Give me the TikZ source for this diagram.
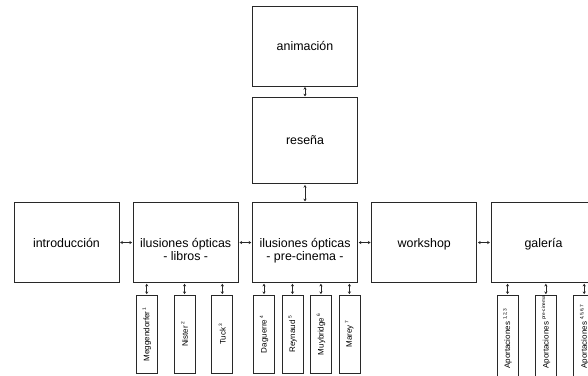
\documentclass[tikz,border=0pt]{standalone}
\usepackage{fontspec}
\setmainfont{Liberation Sans}
\usetikzlibrary{arrows.meta, positioning}
\definecolor{boxline}{RGB}{40,40,40}
\newcommand\tinysup[1]{\,\raisebox{2.6pt}{\fontsize{3.6}{4}\selectfont #1}}
\tikzset{
  mainbox/.style={
    draw=boxline,
    line width=0.6pt,
    minimum width=78.75pt,
    minimum height=60pt,
    inner sep=0pt
  },
  maintext/.style={
    font=\fontsize{9.3}{10}\selectfont,
    align=center,
    inner sep=0pt,
    anchor=base
  },
  tinybox/.style={
    draw=boxline,
    line width=0.6pt,
    minimum width=15.75pt,
    minimum height=58.5pt,
    inner sep=0pt
  },
  tinytext/.style={font=\fontsize{6}{7}\selectfont, rotate=90, inner sep=0pt},
  link/.style={{Stealth[length=2pt,width=2.4pt]}-{Stealth[length=2pt,width=2.4pt]}, line width=0.5pt, draw=boxline, shorten <=0.6pt, shorten >=0.6pt}
}

\begin{document}
\begin{tikzpicture}
        \useasboundingbox (0,0) rectangle (441pt,-281.25pt);
        \clip (0,0) rectangle (441pt,-281.25pt);

        % main row
        \node[mainbox] (precine) at (228.75pt,-181.9pt) {};
        \node[mainbox, left=10.1pt of precine] (libros) {};
        \node[mainbox, left=10.1pt of libros] (intro) {};
        \node[mainbox, right=10.1pt of precine] (workshop) {};
        \node[mainbox, right=10.1pt of workshop] (galeria) {};
        \node[mainbox, above=13.5pt of precine, minimum height=65pt] (resena) {};
        \node[mainbox, above=7.5pt of resena] (animacion) {};

        \node[maintext] (animacion-t) at ([yshift=-3.4pt]animacion.center) {animación};
        \node[maintext] (resena-t) at ([yshift=-3.4pt]resena.center) {reseña};
        \node[maintext] (intro-t) at ([yshift=-3.4pt]intro.center) {introducción};
        \node[maintext] (libros-t) at ([yshift=-13.4pt]libros.center) {ilusiones ópticas\\- libros -};
        \node[maintext] (precine-t) at ([yshift=-13.4pt]precine.center) {ilusiones ópticas\\- pre-cinema -};
        \node[maintext] (workshop-t) at ([yshift=-3.4pt]workshop.center) {workshop};
        \node[maintext] (galeria-t) at ([yshift=-3.4pt]galeria.center) {galería};

        \draw[link, shorten <=0.2pt, shorten >=0.2pt] (animacion) -- (resena);
        \draw[link] (resena) -- (precine);
        \draw[link] (intro) -- (libros);
        \draw[link] (libros) -- (precine);
        \draw[link] (precine) -- (workshop);
        \draw[link] (workshop) -- (galeria);

        % libros
        \node[tinybox, below=9pt of libros.south west, anchor=north west, xshift=2.25pt] (megg) {};
        \node[tinybox, right=12pt of megg] (nister) {};
        \node[tinybox, right=12pt of nister] (tuck) {};
        \node[tinytext] (megg-t) at (megg) {Meggendorfer\tinysup{1}};
        \node[tinytext] (nister-t) at (nister) {Nister\tinysup{2}};
        \node[tinytext] (tuck-t) at (tuck) {Tuck\tinysup{3}};
        \draw[link] (megg.north) -- (megg.north |- libros.south);
        \draw[link] (nister.north) -- (nister.north |- libros.south);
        \draw[link] (tuck.north) -- (tuck.north |- libros.south);

        % pre-cinema
        \node[tinybox, below=9pt of precine.south west, anchor=north west, xshift=0.75pt] (daguerre) {};
        \node[tinybox, right=5pt of daguerre] (reynaud) {};
        \node[tinybox, right=5pt of reynaud] (muybridge) {};
        \node[tinybox, right=5pt of muybridge] (marey) {};
        \node[tinytext] (daguerre-t) at (daguerre) {Daguerre\tinysup{4}};
        \node[tinytext] (reynaud-t) at (reynaud) {Reynaud\tinysup{5}};
        \node[tinytext] (muybridge-t) at (muybridge) {Muybridge\tinysup{6}};
        \node[tinytext] (marey-t) at (marey) {Marey\tinysup{7}};
        \draw[link] (daguerre.north) -- (daguerre.north |- precine.south);
        \draw[link] (reynaud.north) -- (reynaud.north |- precine.south);
        \draw[link] (muybridge.north) -- (muybridge.north |- precine.south);
        \draw[link] (marey.north) -- (marey.north |- precine.south);

        % galeria
        \node[tinybox, minimum height=75pt, below=9pt of galeria.south west, anchor=north west, xshift=4.5pt] (aport1) {};
        \node[tinybox, minimum height=75pt, right=12.4pt of aport1] (aport2) {};
        \node[tinybox, minimum height=75pt, right=12.4pt of aport2] (aport3) {};
        \node[tinytext, anchor=west] (aport1-t) at ([yshift=-55.5pt]aport1.north) {Aportaciones\tinysup{\,1,2,3}};
        \node[tinytext, anchor=west] (aport2-t) at ([yshift=-55.5pt]aport2.north) {Aportaciones\tinysup{\,pre-cinema}};
        \node[tinytext, anchor=west] (aport3-t) at ([yshift=-55.5pt]aport3.north) {Aportaciones\tinysup{\,4,5,6,7}};
        \draw[link] (aport1.north) -- (aport1.north |- galeria.south);
        \draw[link] (aport2.north) -- (aport2.north |- galeria.south);
        \draw[link] (aport3.north) -- (aport3.north |- galeria.south);
\end{tikzpicture}
\end{document}
